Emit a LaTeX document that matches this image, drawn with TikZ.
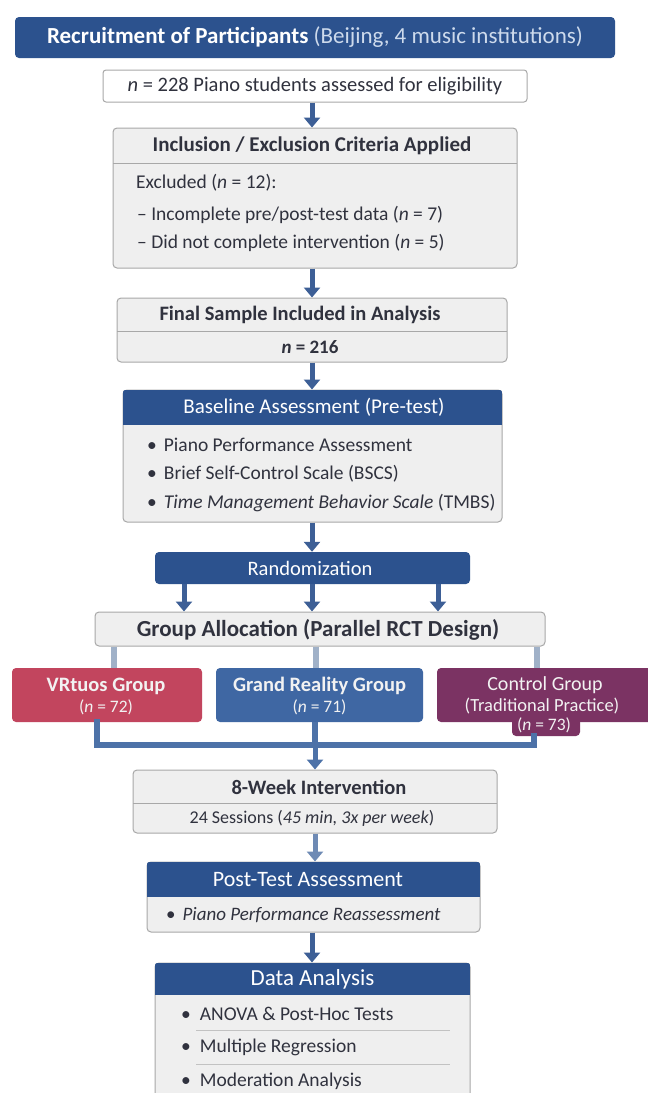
\documentclass[tikz,border=0pt]{standalone}
\usepackage{fontspec}
\setmainfont{Carlito}
\usetikzlibrary{arrows.meta}
\definecolor{hdrblue}{RGB}{44,82,142}
\definecolor{boxfill}{RGB}{239,239,239}
\definecolor{boxdraw}{RGB}{168,168,168}
\definecolor{arrowc}{RGB}{61,95,150}
\definecolor{arrowl}{RGB}{110,138,180}
\definecolor{vrtc}{RGB}{194,69,94}
\definecolor{grandc}{RGB}{63,103,163}
\definecolor{ctrlc}{RGB}{123,51,99}
\definecolor{linkl}{RGB}{160,177,200}
\definecolor{linkd}{RGB}{77,114,168}
\definecolor{txt}{RGB}{48,50,62}
\definecolor{subw}{RGB}{205,218,236}
\begin{document}
\begin{tikzpicture}[x=1pt,y=-1pt,
  graybox/.style={draw=boxdraw, fill=boxfill, line width=1pt, rounded corners=4pt, inner sep=0pt},
  whitebox/.style={draw=boxdraw, fill=white, line width=1pt, rounded corners=3pt, inner sep=0pt},
  darkbox/.style={fill=hdrblue, rounded corners=4pt, inner sep=0pt},
  grpbox/.style={rounded corners=4pt, inner sep=0pt},
  arr/.style={draw=arrowc, line width=5pt, -{Triangle[width=16pt,length=10pt]}},
  arrl/.style={draw=arrowl, line width=5pt, -{Triangle[width=16pt,length=10pt]}},
  lnk/.style={draw=linkl, line width=6pt},
  lnkd/.style={draw=linkd, line width=6pt},
  ttl/.style={font=\fontsize{21}{24}\selectfont\bfseries, text=txt, inner sep=0pt},
  ttlw/.style={font=\fontsize{21}{24}\selectfont, text=white, inner sep=0pt},
  body/.style={font=\fontsize{19.5}{22}\selectfont, text=txt, inner sep=0pt, anchor=west},
  gtxt/.style={font=\fontsize{20}{23}\selectfont, text=white!90!gray, inner sep=0pt},
  sep/.style={draw=boxdraw, line width=0.8pt}
]
\useasboundingbox (0,0) rectangle (648,1093);
\clip (0,0) rectangle (648,1093);
\fill[white] (0,0) rectangle (648,1093);

% Recruitment
\node[darkbox, minimum width=600pt, minimum height=41pt] (recruit) at (315,37.5) {};
\node[font=\fontsize{23}{26}\selectfont, inner sep=0pt] (recruitt) at (recruit.center)
  {\textcolor{white}{\bfseries Recruitment of Participants} \textcolor{subw}{(Beijing, 4 music institutions)}};

% Assessed
\node[whitebox, minimum width=424pt, minimum height=32pt] (assess) at (315,86) {};
\node[font=\fontsize{20.5}{23}\selectfont, text=txt, inner sep=0pt] (assesst) at (assess.center)
  {\textit{n} = 228 Piano students assessed for eligibility};

% Inclusion
\node[graybox, minimum width=404pt, minimum height=140pt] (incl) at (315,198) {};
\draw[sep] (113,163) -- (517,163);
\node[ttl] (inclh) at (312,146) {Inclusion / Exclusion Criteria Applied};
\node[body] (incl1) at (136,183) {Excluded (\textit{n} = 12):};
\node[body] (incl2) at (137,215) {– Incomplete pre/post-test data (\textit{n} = 7)};
\node[body] (incl3) at (137,243) {– Did not complete intervention (\textit{n} = 5)};

% Final sample
\node[graybox, minimum width=390pt, minimum height=64pt] (final) at (312,330) {};
\draw[sep] (117,331) -- (507,331);
\node[ttl, font=\fontsize{20.5}{24}\selectfont\bfseries] (finalh) at (300,315) {Final Sample Included in Analysis};
\node[ttl, font=\fontsize{19}{22}\selectfont\bfseries] (finaln) at (310,347.5) {\textit{n} = 216};

% Baseline
\node[graybox, minimum width=379pt, minimum height=132pt] (base) at (312.5,456) {};
\begin{scope}
  \clip[rounded corners=4pt] (base.north west) rectangle (base.south east);
  \fill[hdrblue] (base.north west) rectangle ([yshift=-35pt]base.north east);
\end{scope}
\node[ttlw] (baseh) at (314,407.5) {Baseline Assessment (Pre-test)};
\node[body] (base1) at (147,445) {•\hspace{7pt}Piano Performance Assessment};
\node[body] (base2) at (147,474) {•\hspace{7pt}Brief Self-Control Scale (BSCS)};
\node[body] (base3) at (147,503) {•\hspace{7pt}\textit{Time Management Behavior Scale} (TMBS)};

% Randomization
\node[darkbox, minimum width=315pt, minimum height=32pt] (rand) at (312.5,568) {};
\node[ttlw, font=\fontsize{20.5}{24}\selectfont] (randt) at (310,568) {Randomization};

% Allocation
\node[graybox, minimum width=450pt, minimum height=34pt] (alloc) at (320,629) {};
\node[font=\fontsize{23}{26}\selectfont\bfseries, text=txt, inner sep=0pt] (alloct) at (318,630) {Group Allocation (Parallel RCT Design)};

% Groups
\node[grpbox, fill=vrtc, minimum width=190pt, minimum height=54pt] (vrt) at (107,695) {};
\node[grpbox, fill=grandc, minimum width=207pt, minimum height=54pt] (grand) at (319.5,695) {};
\node[grpbox, fill=ctrlc, minimum width=216pt, minimum height=54pt] (ctrl) at (545,695) {};
\node[grpbox, fill=ctrlc, minimum width=68pt, minimum height=24pt] (ctrln) at (546,724) {};
\node[gtxt, font=\fontsize{20.5}{23}\selectfont\bfseries] (vrt1) at (106,686) {VRtuos Group};
\node[gtxt, font=\fontsize{17.5}{20}\selectfont] (vrt2) at (106,707) {(\textit{n} = 72)};
\node[gtxt, font=\fontsize{20.5}{23}\selectfont\bfseries] (grand1) at (319.5,686) {Grand Reality Group};
\node[gtxt, font=\fontsize{17.5}{20}\selectfont] (grand2) at (319.5,707) {(\textit{n} = 71)};
\node[gtxt] (ctrl1) at (545,685) {Control Group};
\node[gtxt, font=\fontsize{18.5}{21}\selectfont] (ctrl2) at (542,706) {(Traditional Practice)};
\node[gtxt, font=\fontsize{17.5}{20}\selectfont] (ctrl3) at (544,725) {(\textit{n} = 73)};

% 8-week
\node[graybox, minimum width=364pt, minimum height=63pt] (week) at (315,801.5) {};
\draw[sep] (133,803) -- (497,803);
\node[ttl, font=\fontsize{20.5}{24}\selectfont\bfseries] (weekh) at (319,787) {8-Week Intervention};
\node[font=\fontsize{18}{21}\selectfont, text=txt, inner sep=0pt] (weekt) at (312,818.5) {24 Sessions (\textit{45 min, 3x per week})};

% Post-test
\node[graybox, minimum width=333pt, minimum height=70pt] (post) at (313.5,897) {};
\begin{scope}
  \clip[rounded corners=4pt] (post.north west) rectangle (post.south east);
  \fill[hdrblue] (post.north west) rectangle ([yshift=-35pt]post.north east);
\end{scope}
\node[ttlw, font=\fontsize{22}{25}\selectfont] (posth) at (308,880) {Post-Test Assessment};
\node[body, font=\fontsize{19}{22}\selectfont] (post1) at (166,915) {•\hspace{7pt}\textit{Piano Performance Reassessment}};

% Data analysis
\node[graybox, minimum width=315pt, minimum height=147pt] (data) at (312.5,1036.5) {};
\begin{scope}
  \clip[rounded corners=4pt] (data.north west) rectangle (data.south east);
  \fill[hdrblue] (data.north west) rectangle ([yshift=-32pt]data.north east);
\end{scope}
\node[ttlw, font=\fontsize{23}{26}\selectfont] (datah) at (312.5,979) {Data Analysis};
\node[body] (data1) at (181,1014) {•\hspace{9pt}ANOVA \& Post-Hoc Tests};
\draw[sep, draw=boxdraw!70] (196,1030) -- (450,1030);
\node[body] (data2) at (181,1047) {•\hspace{9pt}Multiple Regression};
\draw[sep, draw=boxdraw!70] (196,1064) -- (450,1064);
\node[body] (data3) at (181,1081) {•\hspace{9pt}Moderation Analysis};

% Connectors
\draw[arr] (312,0 |- assess.south) -- (312,0 |- incl.north);
\draw[arr] (312,0 |- incl.south) -- (312,0 |- final.north);
\draw[arr] (312,0 |- final.south) -- (312,0 |- base.north);
\draw[arr] (312,0 |- base.south) -- (312,0 |- rand.north);
\draw[arr] (184,0 |- rand.south) -- (184,0 |- alloc.north);
\draw[arr] (312,0 |- rand.south) -- (312,0 |- alloc.north);
\draw[arr] (438,0 |- rand.south) -- (438,0 |- alloc.north);

\draw[lnk] (114,0 |- alloc.south) -- (114,0 |- vrt.north);
\draw[lnk] (316,0 |- alloc.south) -- (316,0 |- grand.north);
\draw[lnk] (537,0 |- alloc.south) -- (537,0 |- ctrl.north);

\coordinate (jl) at (97,745);
\coordinate (jm) at (315,745);
\coordinate (jr) at (534,745);
\draw[lnkd, line cap=rect] (97,0 |- vrt.south) -- (jl) -- (jr) -- (534,0 |- ctrln.south);
\draw[lnkd] (315,0 |- grand.south) -- (jm);
\draw[arr, draw=linkd] (jm) -- (315,0 |- week.north);
\draw[arrl] (315,0 |- week.south) -- (315,0 |- post.north);
\draw[arr] (312,0 |- post.south) -- (312,0 |- data.north);
\end{tikzpicture}
\end{document}
